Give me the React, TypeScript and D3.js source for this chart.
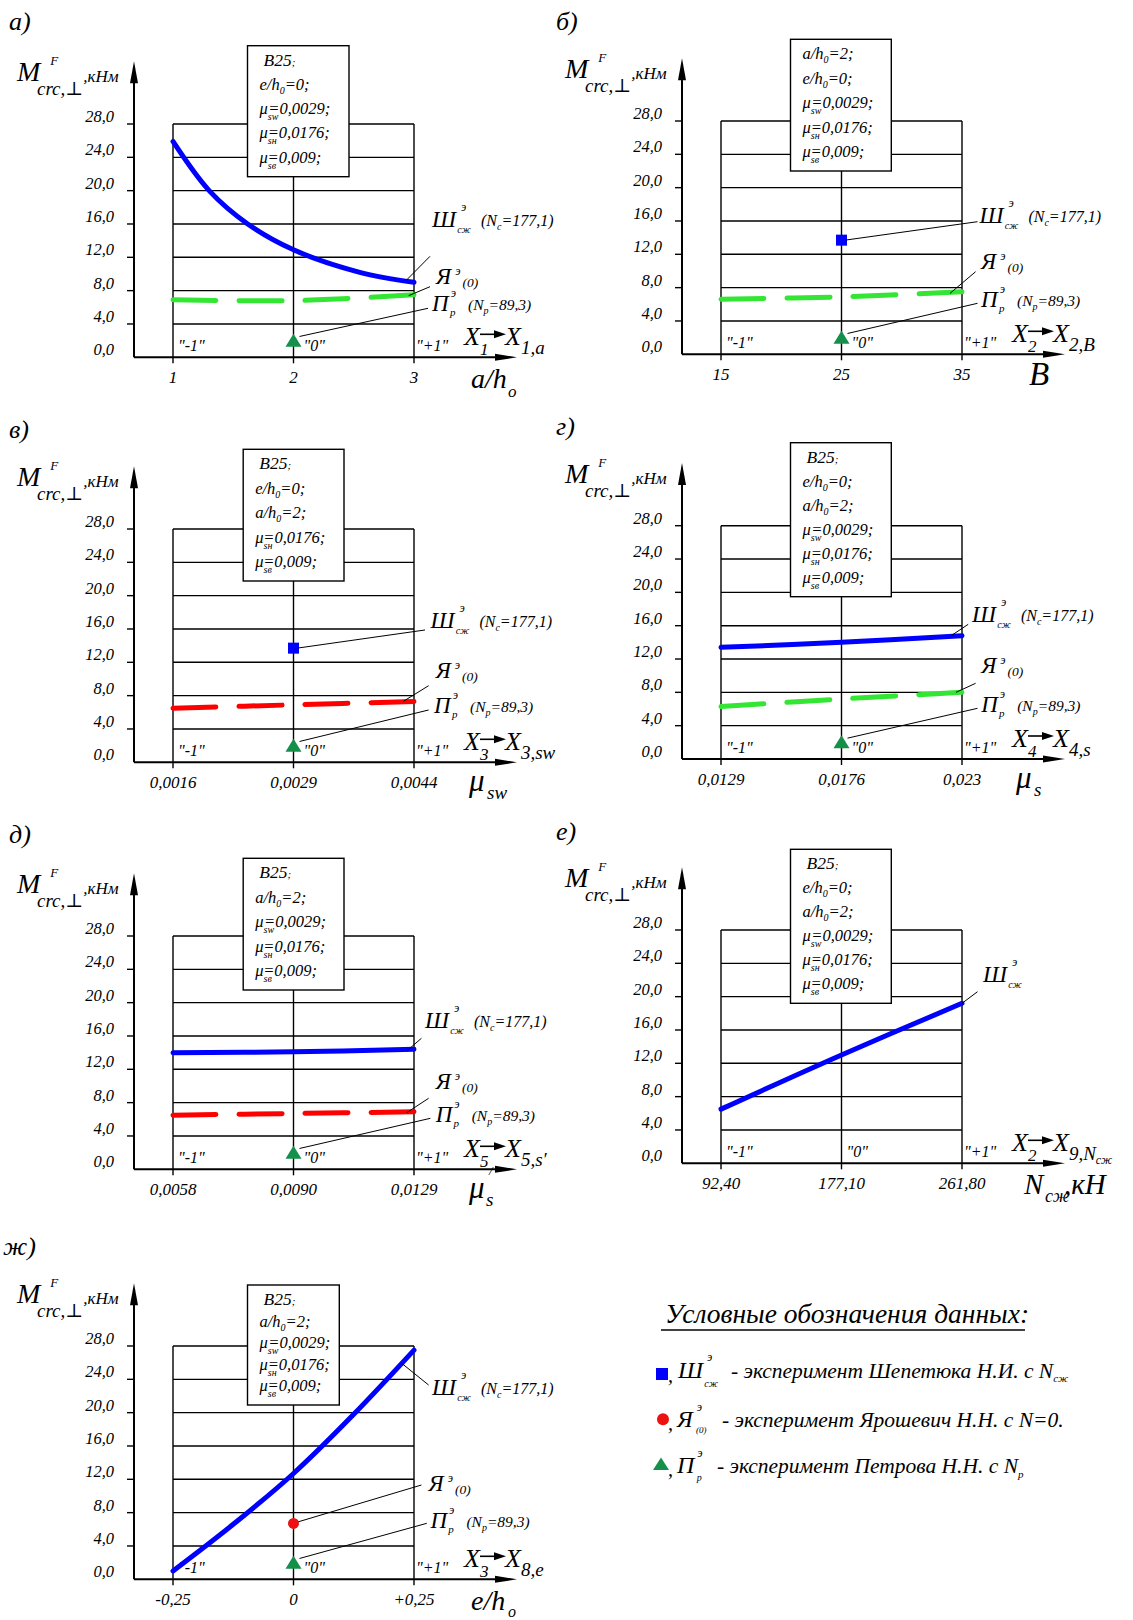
import React from "react";
import * as d3 from "d3";

const W = 1133;
const H = 1620;
const FONT = "'Liberation Serif', 'Times New Roman', 'DejaVu Serif', serif";

// ---------------- data ----------------
const codedLevels = [-1, 0, 1];
const codedLabels = ['"-1"', '"0"', '"+1"'];
const yTicks = [0, 4, 8, 12, 16, 20, 24, 28];
const yTickLabels = ["0,0", "4,0", "8,0", "12,0", "16,0", "20,0", "24,0", "28,0"];

const xTicksA = ["1", "2", "3"];
const xTicksB = ["15", "25", "35"];
const xTicksV = ["0,0016", "0,0029", "0,0044"];
const xTicksG = ["0,0129", "0,0176", "0,023"];
const xTicksD = ["0,0058", "0,0090", "0,0129"];
const xTicksE = ["92,40", "177,10", "261,80"];
const xTicksZh = ["-0,25", "0", "+0,25"];

const paramsA = ["В25;", "e/h0=0;", "μsw=0,0029;", "μsн=0,0176;", "μsв=0,009;"];
const paramsB = ["a/h0=2;", "e/h0=0;", "μsw=0,0029;", "μsн=0,0176;", "μsв=0,009;"];
const paramsV = ["В25;", "e/h0=0;", "a/h0=2;", "μsн=0,0176;", "μsв=0,009;"];
const paramsG = ["В25;", "e/h0=0;", "a/h0=2;", "μsw=0,0029;", "μsн=0,0176;", "μsв=0,009;"];
const paramsD = ["В25;", "a/h0=2;", "μsw=0,0029;", "μsн=0,0176;", "μsв=0,009;"];
const paramsE = ["В25;", "e/h0=0;", "a/h0=2;", "μsw=0,0029;", "μsн=0,0176;", "μsв=0,009;"];
const paramsZh = ["В25;", "a/h0=2;", "μsw=0,0029;", "μsн=0,0176;", "μsв=0,009;"];

// Ш (Шепетюк, N_c = 177,1) – coded x levels
const shCurveA_x = [-1, -0.7, -0.38, 0, 0.55, 1];
const shCurveA_y = [25.9, 20.0, 16.0, 12.9, 10.2, 9.0];
const shCurveG_y = [13.4, 14.0, 14.8];
const shCurveD_y = [14.0, 14.1, 14.4];
const shCurveE_y = [6.5, 13.0, 19.2];
const shCurveZh_x = [-1, -0.5, 0, 0.5, 1];
const shCurveZh_y = [1.0, 6.6, 12.7, 19.8, 27.5];
const shPointB = 13.7;
const shPointV = 13.7;

// Я (Ярошевич, N = 0)
const yaCurveA = [6.9, 6.8, 7.5];
const yaCurveB = [6.6, 6.9, 7.5];
const yaCurveV = [6.5, 6.9, 7.3];
const yaCurveG = [6.3, 7.2, 8.0];
const yaCurveD = [6.5, 6.7, 6.9];
const yaPointZh = 6.7;

// П (Петров, N_p = 89,3) – at coded level 0
const prPoint = 2.0;

// ---------------- styles ----------------
const BLUE = "#0000ff";
const LIME = "#33e633";
const RED = "#ff0000";
const TRI = "#14904a";

const X0 = 39;
const X1 = 280;
const YH = 233.3;

type Part = { t: string; dx?: number; b?: number; fs?: number };

function Parts({ x, y, parts }: { x: number; y: number; parts: Part[] }) {
  return (
    <g>
      {parts.map((p, i) => (
        <text key={i} x={x + (p.dx ?? 0)} y={y + (p.b ?? 0)} fontSize={p.fs ?? 16}>
          {p.t}
        </text>
      ))}
    </g>
  );
}

const subWidth: Record<string, number> = { sw: 10, "sн": 9, "sв": 8.5 };

function ParamLine({ s, x, y }: { s: string; x: number; y: number }) {
  let m = s.match(/^μ(s.?)(=.*)$/);
  if (m) {
    return (
      <text x={x} y={y} fontSize={16.5}>
        <tspan>μ</tspan>
        <tspan dy={6} fontSize={10}>{m[1]}</tspan>
        <tspan dx={-(subWidth[m[1]] ?? 9)} dy={-6}>{m[2]}</tspan>
      </text>
    );
  }
  m = s.match(/^(.)\/h0(=.*)$/);
  if (m) {
    return (
      <text x={x} y={y} fontSize={16.5}>
        <tspan>{m[1] + "/h"}</tspan>
        <tspan dy={4} fontSize={10}>0</tspan>
        <tspan dy={-4}>{m[2]}</tspan>
      </text>
    );
  }
  m = s.match(/^(.*);$/);
  return (
    <text x={x + 4} y={y} fontSize={17.5}>
      <tspan>{m ? m[1] : s}</tspan>
      <tspan fontSize={11}>;</tspan>
    </text>
  );
}

function ShLabel({ x, y, withN }: { x: number; y: number; withN: boolean }) {
  return (
    <g>
      <text x={x} y={y} fontSize={23}>
        <tspan>Ш</tspan>
        <tspan dx={5} dy={-16} fontSize={12}>э</tspan>
        <tspan dx={-9} dy={22} fontSize={10}>сж</tspan>
      </text>
      {withN && (
        <text x={x + 49} y={y - 1} fontSize={16}>
          <tspan>(N</tspan>
          <tspan dy={4} fontSize={10}>c</tspan>
          <tspan dy={-4}>=177,1)</tspan>
        </text>
      )}
    </g>
  );
}

function YaLabel({ x, y }: { x: number; y: number }) {
  return (
    <text x={x} y={y} fontSize={23}>
      <tspan>Я</tspan>
      <tspan dx={4} dy={-9} fontSize={12}>э</tspan>
      <tspan dx={2} dy={12} fontSize={13.5}>(0)</tspan>
    </text>
  );
}

function PrLabel({ x, y }: { x: number; y: number }) {
  return (
    <g>
      <text x={x} y={y} fontSize={23}>
        <tspan>П</tspan>
        <tspan dx={2} dy={-14} fontSize={12}>э</tspan>
        <tspan dx={-6} dy={19} fontSize={11}>p</tspan>
      </text>
      <text x={x + 36} y={y - 1} fontSize={15.5}>
        <tspan>(N</tspan>
        <tspan dy={4} fontSize={10}>p</tspan>
        <tspan dy={-4}>=89,3)</tspan>
      </text>
    </g>
  );
}

function MapLabel({ a, b, bsub }: { a: string; b: string; bsub?: string }) {
  return (
    <g>
      <text x={330} y={-12} fontSize={26}>
        <tspan>X</tspan>
        <tspan dy={10} fontSize={17}>{a}</tspan>
      </text>
      <line x1={346} x2={362} y1={-23} y2={-23} stroke="#000" strokeWidth={1.6} />
      <path d="M372,-23 L360,-27 L360,-19 Z" fill="#000" />
      <text x={371} y={-12} fontSize={26}>
        <tspan>X</tspan>
        <tspan dy={9} fontSize={19}>{b}</tspan>
        {bsub && (
          <tspan dy={4} fontSize={12}>{bsub}</tspan>
        )}
      </text>
    </g>
  );
}

type Lab = { pos: [number, number]; from: [number, number]; to: [number, number] };

type Panel = {
  key: string;
  letter: string;
  letterPos: [number, number];
  o: [number, number];
  xTicks: string[];
  params: string[];
  box: [number, number, number, number];
  shLine?: { x: number[]; y: number[] };
  shPoint?: number;
  ya?: { y: number[]; color: string };
  yaPoint?: number;
  pr: boolean;
  shLab: Lab & { withN: boolean };
  yaLab?: Lab;
  prLab?: Lab;
  zeroDx: number;
  axisName: Part[];
  map: { a: string; b: string; bsub?: string };
};

const panels: Panel[] = [
  {
    key: "a", letter: "а)", letterPos: [9, 30], o: [134, 357.3], xTicks: xTicksA, params: paramsA,
    box: [113.5, -311.6, 215, -180.6],
    shLine: { x: shCurveA_x, y: shCurveA_y },
    ya: { y: yaCurveA, color: LIME }, pr: true,
    shLab: { pos: [298, -130], from: [0.94, 9.3], to: [296, -101], withN: true },
    yaLab: { pos: [302, -73], from: [0.956, 7.4], to: [296, -70.6] },
    prLab: { pos: [298, -46], from: [0.05, 2.5], to: [294, -49] },
    zeroDx: 10,
    axisName: [{ t: "a/h", dx: 337, b: 31, fs: 28 }, { t: "o", dx: 374, b: 40, fs: 17 }],
    map: { a: "1", b: "1,a" },
  },
  {
    key: "b", letter: "б)", letterPos: [556, 30], o: [682, 354.3], xTicks: xTicksB, params: paramsB,
    box: [108.5, -315, 209.3, -183.3],
    shPoint: shPointB,
    ya: { y: yaCurveB, color: LIME }, pr: true,
    shLab: { pos: [297.4, -131.6], from: [0.03, 13.7], to: [295.5, -132.6], withN: true },
    yaLab: { pos: [299, -85], from: [0.9, 7.3], to: [293.6, -82.6] },
    prLab: { pos: [299, -47.6], from: [0.05, 2.5], to: [295.5, -51] },
    zeroDx: 10,
    axisName: [{ t: "В", dx: 347, b: 31, fs: 33 }],
    map: { a: "2", b: "2,В" },
  },
  {
    key: "v", letter: "в)", letterPos: [9, 438], o: [134, 762.3], xTicks: xTicksV, params: paramsV,
    box: [109.2, -313, 210, -181.3],
    shPoint: shPointV,
    ya: { y: yaCurveV, color: RED }, pr: true,
    shLab: { pos: [296.4, -134.6], from: [0.03, 13.7], to: [291, -132.3], withN: true },
    yaLab: { pos: [301.7, -84.6], from: [0.91, 7.3], to: [294.6, -76.6] },
    prLab: { pos: [300, -49], from: [0.05, 2.5], to: [294.6, -52.3] },
    zeroDx: 10,
    axisName: [{ t: "μ", dx: 335, b: 29, fs: 31 }, { t: "sw", dx: 353, b: 37, fs: 19 }],
    map: { a: "3", b: "3,sw" },
  },
  {
    key: "g", letter: "г)", letterPos: [556, 435], o: [682, 759], xTicks: xTicksG, params: paramsG,
    box: [108.5, -316.3, 209.3, -162.3],
    shLine: { x: codedLevels, y: shCurveG_y },
    ya: { y: yaCurveG, color: LIME }, pr: true,
    shLab: { pos: [289.9, -137.3], from: [0.91, 14.8], to: [286.2, -134.7], withN: true },
    yaLab: { pos: [299.2, -85.7], from: [0.95, 8.0], to: [293.6, -75.7] },
    prLab: { pos: [299.2, -47.3], from: [0.05, 2.5], to: [295.5, -50.7] },
    zeroDx: 10,
    axisName: [{ t: "μ", dx: 334, b: 29, fs: 31 }, { t: "s", dx: 352, b: 37, fs: 19 }],
    map: { a: "4", b: "4,s" },
  },
  {
    key: "d", letter: "д)", letterPos: [9, 843], o: [134, 1169.3], xTicks: xTicksD, params: paramsD,
    box: [109.2, -311, 210, -179.3],
    shLine: { x: codedLevels, y: shCurveD_y },
    ya: { y: yaCurveD, color: RED }, pr: true,
    shLab: { pos: [291, -141], from: [0.94, 14.2], to: [287.4, -131], withN: true },
    yaLab: { pos: [301.7, -80], from: [0.94, 6.8], to: [294.6, -71] },
    prLab: { pos: [301.7, -47.6], from: [0.05, 2.5], to: [296.4, -51] },
    zeroDx: 10,
    axisName: [{ t: "μ", dx: 335, b: 29, fs: 31 }, { t: "/", dx: 355, b: 6, fs: 13 }, { t: "s", dx: 352, b: 37, fs: 19 }],
    map: { a: "5", b: "5,s′" },
  },
  {
    key: "e", letter: "е)", letterPos: [556, 840], o: [682, 1163.3], xTicks: xTicksE, params: paramsE,
    box: [108.5, -314, 209.3, -160],
    shLine: { x: codedLevels, y: shCurveE_y },
    pr: false,
    shLab: { pos: [301, -181.6], from: [1.0, 19.2], to: [295.5, -171.6], withN: false },
    zeroDx: 5,
    axisName: [{ t: "N", dx: 342, b: 31, fs: 29 }, { t: "сж", dx: 363, b: 39, fs: 18 }, { t: ",кН", dx: 382, b: 31, fs: 29 }],
    map: { a: "2", b: "9,N", bsub: "сж" },
  },
  {
    key: "zh", letter: "ж)", letterPos: [3, 1255], o: [134, 1579.3], xTicks: xTicksZh, params: paramsZh,
    box: [113.5, -294.3, 205.3, -174.3],
    shLine: { x: shCurveZh_x, y: shCurveZh_y },
    yaPoint: yaPointZh, pr: true,
    shLab: { pos: [298, -184.3], from: [0.9, 25.9], to: [294.6, -194.3], withN: true },
    yaLab: { pos: [294.6, -88.6], from: [0.04, 6.9], to: [287.4, -94.3] },
    prLab: { pos: [296.4, -51], from: [0.05, 2.5], to: [292.8, -56] },
    zeroDx: 10,
    axisName: [{ t: "e/h", dx: 337, b: 31, fs: 28 }, { t: "o", dx: 374, b: 38, fs: 16 }],
    map: { a: "3", b: "8,e" },
  },
];

function PanelView({ p }: { p: Panel }) {
  const xs = d3.scaleLinear().domain([-1, 1]).range([X0, X1]);
  const ys = d3.scaleLinear().domain([0, 28]).range([0, -YH]);
  const line = d3
    .line<[number, number]>()
    .x((d) => xs(d[0]))
    .y((d) => ys(d[1]))
    .curve(d3.curveCatmullRom.alpha(0.5));
  const [ox, oy] = p.o;
  const gridY = yTicks.filter((v) => v > 0);
  const [bx0, by0, bx1, by1] = p.box;
  const n = p.params.length;
  const step = (by1 - by0 - 34) / (n - 1);
  const leader = (l: Lab, key: string) => (
    <line key={key} x1={xs(l.from[0])} y1={ys(l.from[1])} x2={l.to[0]} y2={l.to[1]} stroke="#000" strokeWidth={1} />
  );
  return (
    <g>
      <text x={p.letterPos[0]} y={p.letterPos[1]} fontSize={26}>{p.letter}</text>
      <g transform={`translate(${ox},${oy})`}>
        {gridY.map((v) => (
          <line key={"h" + v} x1={xs(-1)} x2={xs(1)} y1={ys(v)} y2={ys(v)} stroke="#000" strokeWidth={1.4} />
        ))}
        {codedLevels.map((c) => (
          <line key={"v" + c} x1={xs(c)} x2={xs(c)} y1={ys(28)} y2={6} stroke="#000" strokeWidth={1.4} />
        ))}
        {gridY.map((v) => (
          <line key={"t" + v} x1={-7} x2={0} y1={ys(v)} y2={ys(v)} stroke="#000" strokeWidth={1.4} />
        ))}
        {yTicks.map((v, i) => (
          <text key={"yl" + v} x={-20} y={ys(v) - 2} textAnchor="end" fontSize={16.5}>{yTickLabels[i]}</text>
        ))}
        {codedLevels.map((c, i) => (
          <text key={"xl" + c} x={xs(c)} y={26} textAnchor="middle" fontSize={17}>{p.xTicks[i]}</text>
        ))}
        {codedLevels.map((c, i) => (
          <text key={"cl" + c} x={xs(c) + (c === -1 ? 5 : c === 0 ? p.zeroDx : 2)} y={-6} fontSize={16}>
            {codedLabels[i]}
          </text>
        ))}
        {/* axes */}
        <line x1={0} x2={0} y1={0} y2={-280} stroke="#000" strokeWidth={2} />
        <path d="M0,-296 L-4,-274 L4,-274 Z" fill="#000" />
        <line x1={0} x2={366} y1={0} y2={0} stroke="#000" strokeWidth={2} />
        <path d="M383,0 L361,-3.5 L361,3.5 Z" fill="#000" />
        {/* info box */}
        <rect x={bx0} y={by0} width={bx1 - bx0} height={by1 - by0} fill="#fff" stroke="#000" strokeWidth={1.4} />
        {p.params.map((s, i) => (
          <ParamLine key={"pl" + i} s={s} x={bx0 + 12} y={by0 + 20 + i * step} />
        ))}
        {/* Я series */}
        {p.ya && (
          <path
            d={line(codedLevels.map((c, i) => [c, p.ya!.y[i]]) as [number, number][]) || ""}
            fill="none" stroke={p.ya.color} strokeWidth={5} strokeDasharray="43 23" strokeLinecap="round"
          />
        )}
        {/* Ш series */}
        {p.shLine && (
          <path
            d={line(p.shLine.x.map((c, i) => [c, p.shLine!.y[i]]) as [number, number][]) || ""}
            fill="none" stroke={BLUE} strokeWidth={5} strokeLinecap="round"
          />
        )}
        {p.shPoint !== undefined && (
          <rect x={xs(0) - 5.5} y={ys(p.shPoint) - 5.5} width={11} height={11} fill={BLUE} />
        )}
        {p.yaPoint !== undefined && <circle cx={xs(0)} cy={ys(p.yaPoint)} r={5.5} fill="#ee1111" />}
        {p.pr && (
          <path
            d={`M${xs(0)},${ys(prPoint) - 7} L${xs(0) + 8},${ys(prPoint) + 6} L${xs(0) - 8},${ys(prPoint) + 6} Z`}
            fill={TRI}
          />
        )}
        {/* annotations */}
        {leader(p.shLab, "ls")}
        <ShLabel x={p.shLab.pos[0]} y={p.shLab.pos[1]} withN={p.shLab.withN} />
        {p.yaLab && leader(p.yaLab, "ly")}
        {p.yaLab && <YaLabel x={p.yaLab.pos[0]} y={p.yaLab.pos[1]} />}
        {p.prLab && leader(p.prLab, "lp")}
        {p.prLab && <PrLabel x={p.prLab.pos[0]} y={p.prLab.pos[1]} />}
        {/* y axis title */}
        <text x={-117} y={-276} fontSize={28}>
          <tspan>M</tspan>
          <tspan dx={10} dy={-16} fontSize={13}>F</tspan>
        </text>
        <text x={-97} y={-262} fontSize={19}>
          <tspan>crc,⊥</tspan>
          <tspan dy={-13} fontSize={17}>,кНм</tspan>
        </text>
        {/* x axis names */}
        <Parts x={0} y={0} parts={p.axisName} />
        <MapLabel a={p.map.a} b={p.map.b} bsub={p.map.bsub} />
      </g>
    </g>
  );
}

function Legend() {
  return (
    <g>
      <text x={665} y={1323} fontSize={27.5}>Условные обозначения данных:</text>
      <line x1={661} x2={1025} y1={1330} y2={1330} stroke="#000" strokeWidth={1.5} />
      {/* row 1 */}
      <rect x={656} y={1368} width={12} height={12} fill={BLUE} />
      <text x={668} y={1382} fontSize={20}>
        <tspan>,</tspan>
        <tspan dx={5} dy={-4} fontSize={24}>Ш</tspan>
        <tspan dx={4} dy={-17} fontSize={12}>э</tspan>
        <tspan dx={-8} dy={26} fontSize={10}>сж</tspan>
      </text>
      <text x={731} y={1378} fontSize={21.5}>
        <tspan>- эксперимент Шепетюка Н.И. с N</tspan>
        <tspan dy={4} fontSize={11}>сж</tspan>
      </text>
      {/* row 2 */}
      <circle cx={663} cy={1419.3} r={6} fill="#ee1111" />
      <text x={668} y={1430} fontSize={20}>
        <tspan>,</tspan>
        <tspan dx={4} dy={-3} fontSize={24}>Я</tspan>
        <tspan dx={4} dy={-16} fontSize={12}>э</tspan>
        <tspan dx={-6} dy={22} fontSize={9}>(0)</tspan>
      </text>
      <text x={722} y={1427} fontSize={21.5}>- эксперимент Ярошевич Н.Н. с N=0.</text>
      {/* row 3 */}
      <path d="M661,1457.5 L669,1470 L653,1470 Z" fill={TRI} />
      <text x={668} y={1476} fontSize={20}>
        <tspan>,</tspan>
        <tspan dx={4} dy={-3} fontSize={24}>П</tspan>
        <tspan dx={3} dy={-16} fontSize={12}>э</tspan>
        <tspan dx={-6} dy={24} fontSize={10}>p</tspan>
      </text>
      <text x={717} y={1473} fontSize={21.5}>
        <tspan>- эксперимент Петрова Н.Н. с N</tspan>
        <tspan dy={5} fontSize={11}>p</tspan>
      </text>
    </g>
  );
}

export default function App() {
  return (
    <div style={{ position: "absolute", left: 0, top: 0 }}>
      <svg width={W} height={H} viewBox={`0 0 ${W} ${H}`} style={{ display: "block", background: "#fff" }}>
        <g fontFamily={FONT} fontStyle="italic" fill="#000">
          {panels.map((p) => (
            <PanelView key={p.key} p={p} />
          ))}
          <Legend />
        </g>
      </svg>
    </div>
  );
}
